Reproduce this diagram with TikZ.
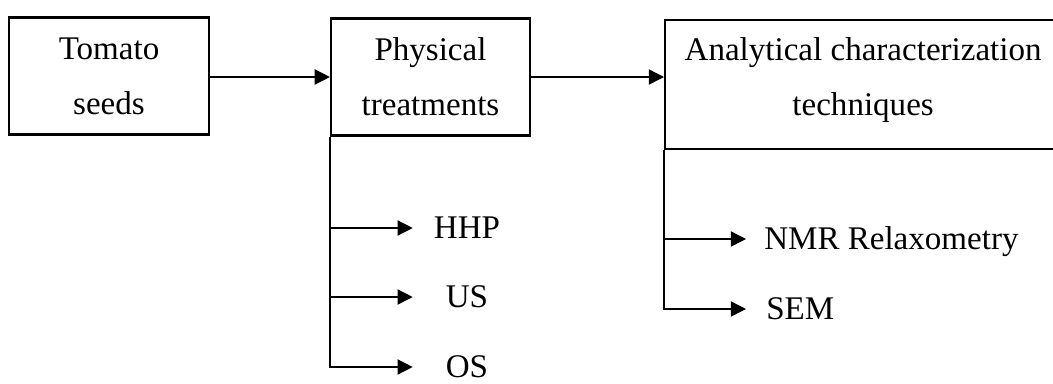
\documentclass[tikz,border=0pt]{standalone}
\usepackage{fontspec}
\setmainfont{Liberation Serif}
\usetikzlibrary{arrows.meta}

\begin{document}
\begin{tikzpicture}[x=0.025cm, y=-0.025cm,
  box/.style={draw, line width=1.5pt, align=center, inner sep=0pt,
    font={\fontsize{23.5}{39}\selectfont}},
  leaf/.style={inner sep=0pt, text height=15.6pt, text depth=0pt,
    font={\fontsize{23.5}{28}\selectfont}},
  arr/.style={line width=1pt, -{Triangle[length=0.38cm, width=0.38cm]}}]
\useasboundingbox (0,0) rectangle (1053,383);

% Main boxes
\node[box, minimum width=5cm, minimum height=2.925cm] (seeds) at (109, 76) {Tomato\\seeds};
\node[box, minimum width=4.975cm, minimum height=2.925cm] (phys) at (430.5, 77) {Physical\\treatments};
\node[box, anchor=north west, minimum width=9.9cm, minimum height=3.225cm,
  text depth=12pt] (anal) at (664, 19) {Analytical characterization\\techniques};

% Main flow
\draw[arr] (seeds.east |- 0,77) -- (phys.west);
\draw[arr] (phys.east) -- (phys.east -| anal.west);

% Physical treatments
\node[leaf, minimum width=2.7cm] (hhp) at (467, 228) {HHP};
\node[leaf, minimum width=2.7cm] (us) at (467, 297) {US};
\node[leaf, minimum width=2.7cm] (os) at (467, 367) {OS};
\draw[arr] (phys.south west) |- (hhp.west);
\draw[arr] (phys.south west) |- (us.west);
\draw[arr] (phys.south west) |- (os.west);

% Characterization techniques
\node[leaf, anchor=west, inner xsep=0.45cm] (nmr) at (746, 239) {NMR Relaxometry};
\node[leaf, anchor=west, inner xsep=0.5cm] (sem) at (746, 309) {SEM};
\draw[arr] (anal.south west) |- (nmr.west);
\draw[arr] (anal.south west) |- (sem.west);

\end{tikzpicture}
\end{document}
